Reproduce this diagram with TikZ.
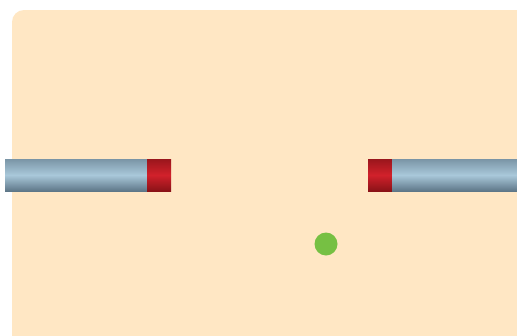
\documentclass[tikz,border=0pt]{standalone}
\definecolor{bgcol}{HTML}{FFE7C4}
\definecolor{rodtop}{HTML}{7A95A6}
\definecolor{rodmid}{HTML}{A9C8DA}
\definecolor{rodbot}{HTML}{5E7788}
\definecolor{captop}{HTML}{9A161C}
\definecolor{capmid}{HTML}{D1212B}
\definecolor{capbot}{HTML}{8A1217}
\definecolor{dotcol}{HTML}{76C043}
\begin{document}
\begin{tikzpicture}[x=1pt,y=-1pt,
  rodbar/.style={top color=rodtop,bottom color=rodbot,middle color=rodmid,draw=none},
  redend/.style={top color=captop,bottom color=capbot,middle color=capmid,draw=none},
]
\useasboundingbox (0,0) rectangle (517,335);
\clip (0,0) rectangle (517,335);
\fill[white] (0,0) rectangle (517,335);
\fill[bgcol,rounded corners=12pt] (12,10) rectangle (540,360);
\shade[rodbar] (5,159) rectangle (147,191);
\shade[redend] (147,159) rectangle (171,191);
\shade[redend] (368,159) rectangle (392,191);
\shade[rodbar] (392,159) rectangle (530,191);
\fill[dotcol] (326,244) circle (11.5);
\end{tikzpicture}
\end{document}
